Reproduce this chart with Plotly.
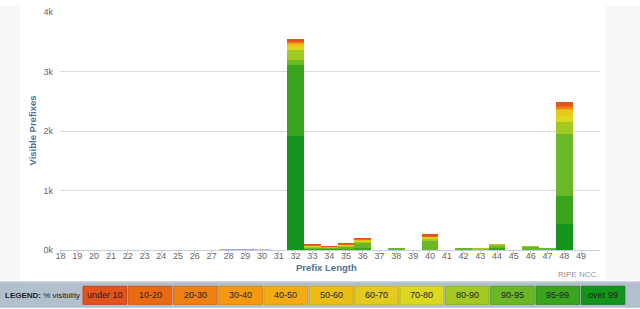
import plotly.graph_objects as go

# ---- data ----
prefix_lengths = list(range(18, 50))
bins = ["over 99", "95-99", "90-95", "80-90", "70-80", "60-70",
        "50-60", "40-50", "30-40", "20-30", "10-20", "under 10"]
bin_colors = ["#14941a", "#3aa41c", "#6ab825", "#a2c822", "#dcd820", "#e3ca1c",
              "#ebbe14", "#f5ac12", "#f59a10", "#f08014", "#ea6a12", "#e2541c"]

# counts per prefix length for each visibility bin
v_over99 = {32: 1910, 48: 440}
v_95_99 = {32: 1207, 33: 20, 34: 17, 35: 25, 36: 33, 44: 30, 48: 465}
v_90_95 = {32: 77, 33: 25, 34: 25, 35: 35, 36: 90, 38: 30, 40: 153, 42: 30,
           44: 35, 46: 51, 47: 30, 48: 1040}
v_80_90 = {28: 12, 29: 12, 32: 165, 33: 15, 34: 10, 35: 20, 36: 25, 40: 38,
           43: 20, 44: 35, 46: 15, 48: 210}
v_70_80 = {30: 10, 32: 45, 33: 10, 34: 8, 35: 10, 36: 15, 40: 20, 48: 100}
v_60_70 = {32: 40, 33: 12, 40: 18, 48: 100}
v_50_60 = {32: 30, 36: 10}
v_40_50 = {48: 20}
v_30_40 = {32: 10, 35: 7, 48: 10}
v_20_30 = {32: 15, 48: 20}
v_10_20 = {32: 10, 33: 8, 35: 8, 36: 12, 40: 11, 48: 20}
v_under10 = {32: 30, 33: 10, 34: 6, 35: 10, 36: 15, 40: 22, 48: 60}

series = [v_over99, v_95_99, v_90_95, v_80_90, v_70_80, v_60_70,
          v_50_60, v_40_50, v_30_40, v_20_30, v_10_20, v_under10]

y_ticks = [0, 1000, 2000, 3000, 4000]
y_tick_labels = ["0k", "1k", "2k", "3k", "4k"]

# ---- layout geometry ----
W, H = 640, 309
L, R, T, B = 60, 40, 7, 59
PW, PH = W - L - R, H - T - B


def px(x):
    return (x - L) / PW


def py(y):
    return (H - B - y) / PH


fig = go.Figure()
for name, color, vals in zip(bins, bin_colors, series):
    fig.add_trace(go.Bar(
        x=prefix_lengths,
        y=[vals.get(p, 0) for p in prefix_lengths],
        name=name, marker=dict(color=color, line=dict(width=0)),
        width=1, showlegend=False))

font = "Liberation Sans, Arial, sans-serif"
shapes = []
annotations = []

# page side backgrounds
shapes.append(dict(type="rect", xref="paper", yref="paper", x0=px(0), x1=px(20),
                   y0=py(281), y1=py(0), fillcolor="#f8f8f8", line=dict(width=0), layer="below"))
shapes.append(dict(type="rect", xref="paper", yref="paper", x0=px(606), x1=px(640),
                   y0=py(281), y1=py(0), fillcolor="#f8f8f8", line=dict(width=0), layer="below"))

# legend band
shapes.append(dict(type="rect", xref="paper", yref="paper", x0=px(0), x1=px(640),
                   y0=py(309), y1=py(282), fillcolor="#b2bfcd", line=dict(width=0)))
shapes.append(dict(type="line", xref="paper", yref="paper", x0=px(0), x1=px(640),
                   y0=py(282.5), y1=py(282.5), line=dict(color="#d3dae3", width=1)))

annotations.append(dict(xref="paper", yref="paper", x=px(3), y=py(296), xanchor="left",
                        yanchor="middle", showarrow=False,
                        text="<b>LEGEND:</b> % visibility",
                        font=dict(family=font, size=8, color="#222")))

border_colors = ["#0f7f15", "#2f8f17", "#5aa31f", "#8db31c", "#c4c21a", "#cfb617",
                 "#d8aa10", "#e09a0f", "#e0870d", "#d96e10", "#d35a0f", "#c9431a"]
legend_order = list(range(len(bins)))[::-1]
for i, k in enumerate(legend_order):
    x0 = 83 + i * 45.3
    x1 = x0 + 43.5
    shapes.append(dict(type="rect", xref="paper", yref="paper", x0=px(x0), x1=px(x1),
                       y0=py(305.5), y1=py(287), fillcolor=bin_colors[k],
                       line=dict(color=border_colors[k], width=1)))
    annotations.append(dict(xref="paper", yref="paper", x=px((x0 + x1) / 2), y=py(296.3),
                            xanchor="center", yanchor="middle", showarrow=False,
                            text=bins[k], font=dict(family=font, size=9, color="#222")))

# axis titles and credit
annotations.append(dict(xref="paper", yref="paper", x=px(33), y=py(128), textangle=-90,
                        xanchor="center", yanchor="middle", showarrow=False,
                        text="<b>Visible Prefixes</b>",
                        font=dict(family=font, size=9.5, color="#4d7198")))
annotations.append(dict(xref="paper", yref="paper", x=px(326), y=py(268),
                        xanchor="center", yanchor="middle", showarrow=False,
                        text="<b>Prefix Length</b>",
                        font=dict(family=font, size=9.5, color="#4d7198")))
annotations.append(dict(xref="paper", yref="paper", x=px(598), y=py(275),
                        xanchor="right", yanchor="middle", showarrow=False,
                        text="RIPE NCC",
                        font=dict(family=font, size=8, color="#909090")))

fig.update_layout(
    width=W, height=H, margin=dict(l=L, r=R, t=T, b=B, pad=0),
    barmode="stack", bargap=0,
    paper_bgcolor="white", plot_bgcolor="white",
    shapes=shapes, annotations=annotations,
    xaxis=dict(range=[17.97, 50.13], tickmode="array", tickvals=prefix_lengths,
               ticktext=[str(p) for p in prefix_lengths],
               showgrid=False, zeroline=False, showline=True, linecolor="#c0d0e0",
               linewidth=1, ticks="outside", ticklen=3, tickcolor="#c0d0e0",
               ticklabelstandoff=-6,
               tickfont=dict(family=font, size=9, color="#666")),
    yaxis=dict(range=[0, 4000], tickmode="array", tickvals=y_ticks, ticktext=y_tick_labels,
               showgrid=True, gridcolor="#d9d9d9", gridwidth=1, zeroline=False,
               showline=False, ticks="", ticklabelstandoff=6,
               tickfont=dict(family=font, size=9, color="#666")),
)

fig.write_html("out.html")
